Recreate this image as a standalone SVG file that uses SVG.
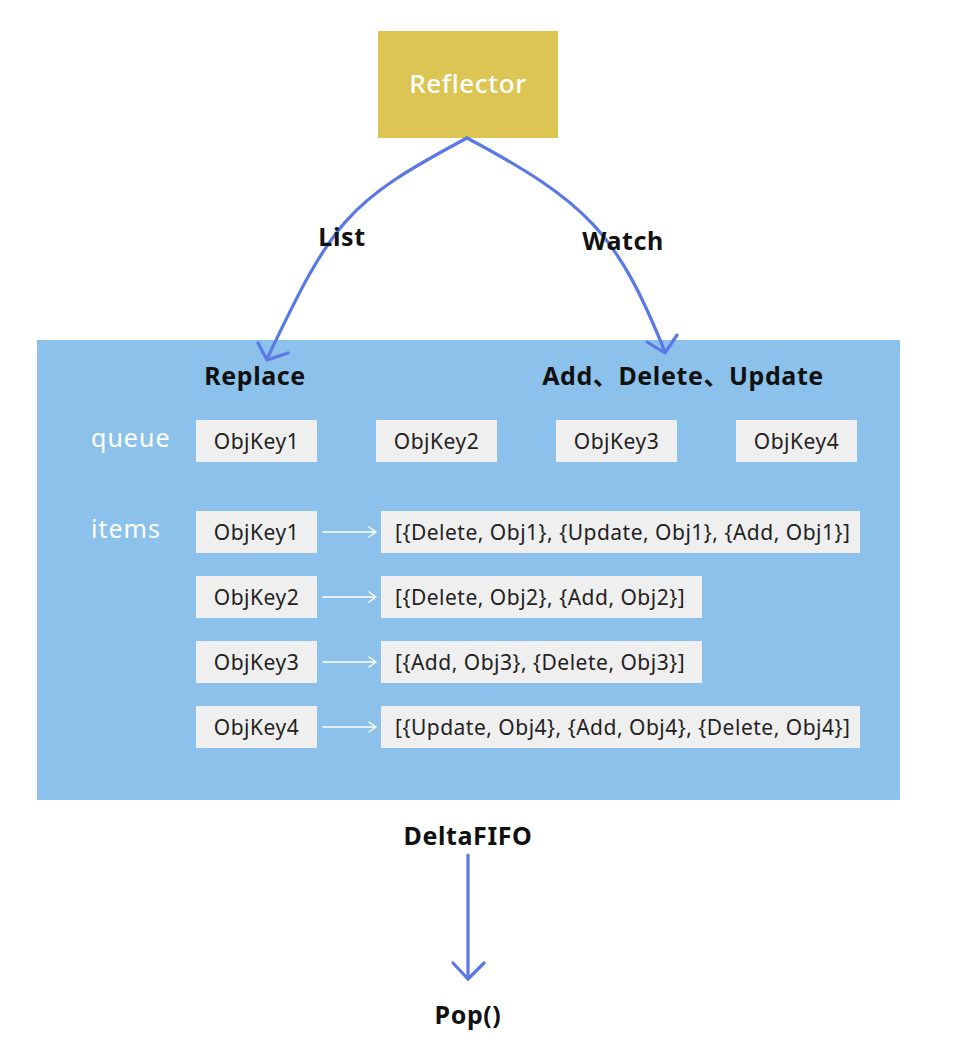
<svg xmlns="http://www.w3.org/2000/svg" width="966" height="1049" viewBox="0 0 966 1049">
<style>
  .t { font-family: "Noto Sans", "Noto Sans CJK SC", sans-serif; }
  .lbl { font-size: 25px; font-weight: bold; fill: #111; letter-spacing: 0.6px; }
  .key { fill: #efefef; }
  .kt { font-size: 21px; fill: #222; letter-spacing: 0.5px; }
  .wl { font-size: 25px; fill: #ffffff; letter-spacing: 1px; }
  .conn { fill: none; stroke: #5a78e6; stroke-width: 3.2; stroke-linecap: round; stroke-linejoin: round; }
  .wa { fill: none; stroke: #ffffff; stroke-width: 1.5; stroke-linecap: round; stroke-linejoin: round; }
</style>
<rect width="966" height="1049" fill="#ffffff"/>

<g id="deltafifo-panel">
  <rect x="37" y="340" width="863" height="460" fill="#8bc1ea"/>
  <text class="t lbl" x="255" y="385" text-anchor="middle">Replace</text>
  <text class="t lbl" x="683" y="385" text-anchor="middle">Add、Delete、Update</text>
  <text class="t wl" x="91" y="447">queue</text>
  <text class="t wl" x="91" y="538">items</text>
</g>

<g id="reflector">
  <rect x="378" y="31" width="180" height="107" fill="#dcc553"/>
  <text class="t" x="468" y="93" text-anchor="middle" font-size="26" font-weight="500" letter-spacing="0.6" fill="#ffffff">Reflector</text>
</g>

<g id="queue-objkey1"><rect class="key" x="196" y="420" width="121" height="42"/><text class="t kt" x="256.5" y="449" text-anchor="middle">ObjKey1</text></g>
<g id="queue-objkey2"><rect class="key" x="376" y="420" width="121" height="42"/><text class="t kt" x="436.5" y="449" text-anchor="middle">ObjKey2</text></g>
<g id="queue-objkey3"><rect class="key" x="556" y="420" width="121" height="42"/><text class="t kt" x="616.5" y="449" text-anchor="middle">ObjKey3</text></g>
<g id="queue-objkey4"><rect class="key" x="736" y="420" width="121" height="42"/><text class="t kt" x="796.5" y="449" text-anchor="middle">ObjKey4</text></g>

<g id="items-objkey1"><rect class="key" x="196" y="511" width="121" height="42"/><text class="t kt" x="256.5" y="540" text-anchor="middle">ObjKey1</text></g>
<g id="items-objkey2"><rect class="key" x="196" y="576" width="121" height="42"/><text class="t kt" x="256.5" y="605" text-anchor="middle">ObjKey2</text></g>
<g id="items-objkey3"><rect class="key" x="196" y="641" width="121" height="42"/><text class="t kt" x="256.5" y="670" text-anchor="middle">ObjKey3</text></g>
<g id="items-objkey4"><rect class="key" x="196" y="706" width="121" height="42"/><text class="t kt" x="256.5" y="735" text-anchor="middle">ObjKey4</text></g>

<g id="deltas-1"><rect class="key" x="381" y="511" width="479" height="42"/><text class="t kt" x="395" y="540">[{Delete, Obj1}, {Update, Obj1}, {Add, Obj1}]</text></g>
<g id="deltas-2"><rect class="key" x="381" y="576" width="321" height="42"/><text class="t kt" x="395" y="605">[{Delete, Obj2}, {Add, Obj2}]</text></g>
<g id="deltas-3"><rect class="key" x="381" y="641" width="321" height="42"/><text class="t kt" x="395" y="670">[{Add, Obj3}, {Delete, Obj3}]</text></g>
<g id="deltas-4"><rect class="key" x="381" y="706" width="479" height="42"/><text class="t kt" x="395" y="735">[{Update, Obj4}, {Add, Obj4}, {Delete, Obj4}]</text></g>

<g id="deltafifo-label">
  <text class="t lbl" x="468" y="845" text-anchor="middle">DeltaFIFO</text>
</g>
<g id="pop">
  <text class="t lbl" x="468" y="1024" text-anchor="middle" letter-spacing="1.5">Pop()</text>
</g>

<g id="connectors">
  <path class="conn" d="M467,138 C347,202 333,220 267,359"/>
  <polyline class="conn" points="258,343 267,360 288,353"/>
  <path class="conn" d="M467,138 C587,202 617,233 665,352"/>
  <polyline class="conn" points="647,342 665,353 677,335"/>
  <text class="t lbl" x="342" y="246" text-anchor="middle">List</text>
  <text class="t lbl" x="623" y="250" text-anchor="middle">Watch</text>
  <path class="conn" d="M468,855 L468,979"/>
  <polyline class="conn" points="453,963 468,979 484,963"/>
  <g class="wa">
    <path d="M323,532 L376,532 M369,527 L376,532 L369,537"/>
    <path d="M323,597 L376,597 M369,592 L376,597 L369,602"/>
    <path d="M323,662 L376,662 M369,657 L376,662 L369,667"/>
    <path d="M323,727 L376,727 M369,722 L376,727 L369,732"/>
  </g>
</g>
</svg>
